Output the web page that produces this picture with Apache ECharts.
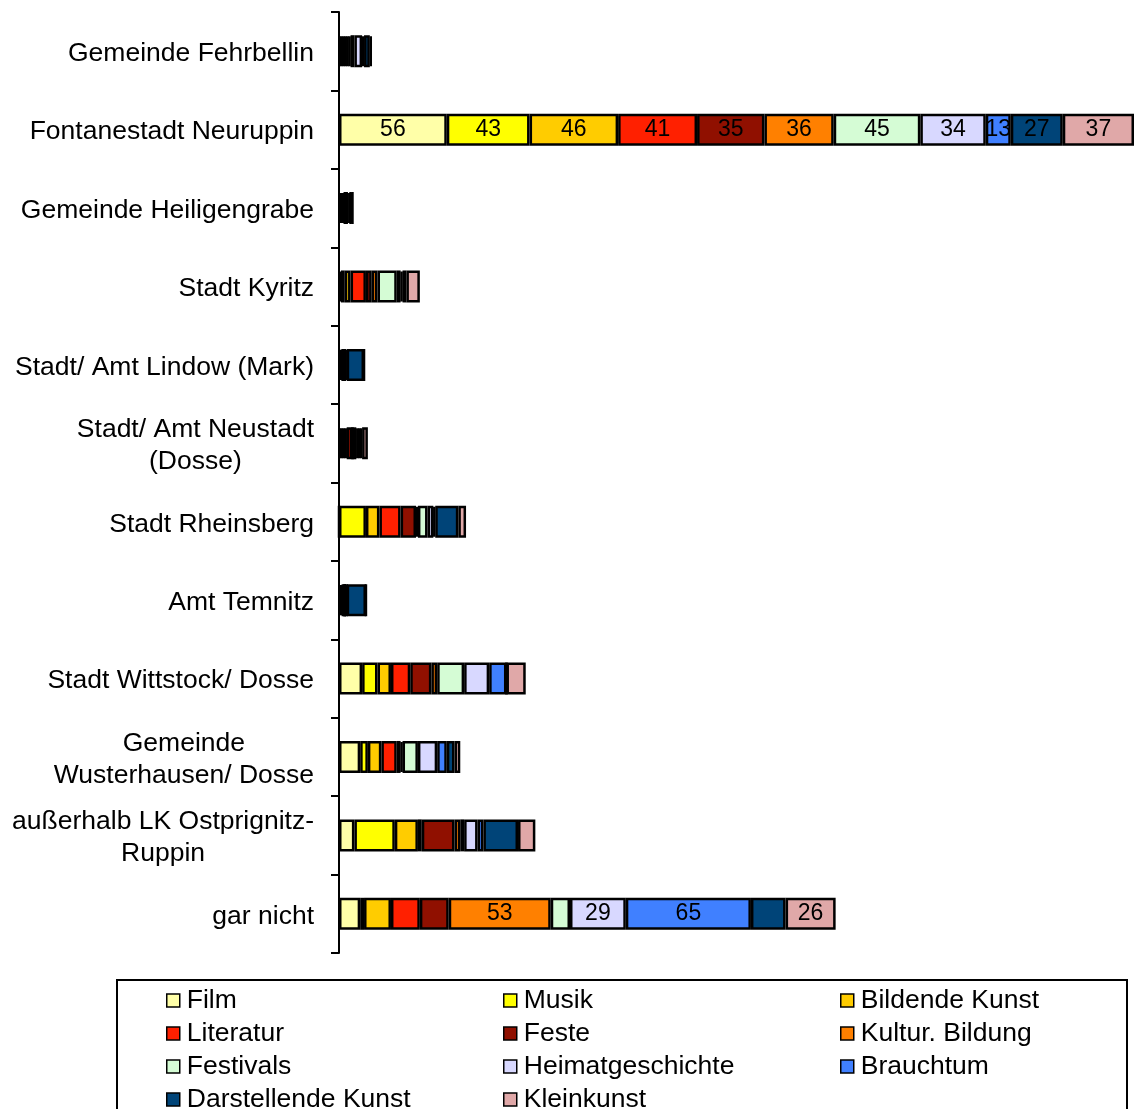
<!DOCTYPE html>
<html>
<head>
<meta charset="utf-8">
<title>Kulturangebote nach Ort</title>
<script src="https://cdn.jsdelivr.net/npm/echarts@6/dist/echarts.min.js"></script>
<style>
  html, body { margin: 0; padding: 0; background: #fff; }
  #chart { width: 1135px; height: 1109px; }
</style>
</head>
<body>
<div id="chart"></div>
<script>
// Orte (Kategorien)
const categories = [
  'Gemeinde Fehrbellin',
  'Fontanestadt Neuruppin',
  'Gemeinde Heiligengrabe',
  'Stadt Kyritz',
  'Stadt/ Amt Lindow (Mark)',
  'Stadt/ Amt Neustadt\n(Dosse)',
  'Stadt Rheinsberg',
  'Amt Temnitz',
  'Stadt Wittstock/ Dosse',
  'Gemeinde\nWusterhausen/ Dosse',
  'außerhalb LK Ostprignitz-\nRuppin',
  'gar nicht'
];

// Nennungen je Sparte, in der Reihenfolge der Orte
const film          = [1, 56, 1, 1, 1, 1, 0, 1, 12, 11, 8, 11];
const musik         = [1, 43, 1, 2, 1, 1, 14, 1, 8, 4, 21, 2];
const bildendeKunst = [1, 46, 1, 3, 0, 1, 7, 0, 7, 7, 12, 14];
const literatur     = [1, 41, 0, 8, 0, 1, 11, 1, 10, 8, 2, 15];
const feste         = [1, 35, 1, 3, 1, 3, 8, 0, 11, 2, 17, 15];
const kulturBildung = [1, 36, 0, 3, 0, 0, 1, 0, 3, 1, 3, 53];
const festivals     = [2, 45, 1, 10, 0, 2, 5, 0, 14, 8, 2, 10];
const heimat        = [4, 34, 1, 2, 0, 1, 3, 1, 13, 10, 7, 29];
const brauchtum     = [1, 13, 0, 1, 1, 1, 1, 0, 9, 5, 3, 65];
const darstellende  = [3, 27, 1, 2, 9, 1, 12, 10, 0, 4, 18, 18];
const kleinkunst    = [1, 37, 0, 7, 0, 3, 4, 0, 10, 3, 9, 26];

// Wertbeschriftung: kleinster beschrifteter Wert je Ort (null = keine Beschriftung)
const labelMinByRow = [null, 0, null, null, null, null, null, null, null, null, null, 20];

const seriesDefs = [
  { name: 'Film',               data: film,          color: '#FFFFA8' },
  { name: 'Musik',              data: musik,         color: '#FFFF00' },
  { name: 'Bildende Kunst',     data: bildendeKunst, color: '#FFCC00' },
  { name: 'Literatur',          data: literatur,     color: '#FF2000' },
  { name: 'Feste',              data: feste,         color: '#901000' },
  { name: 'Kultur. Bildung',    data: kulturBildung, color: '#FF8000' },
  { name: 'Festivals',          data: festivals,     color: '#D5FCD5' },
  { name: 'Heimatgeschichte',   data: heimat,        color: '#D8D8FF' },
  { name: 'Brauchtum',          data: brauchtum,     color: '#4080FF' },
  { name: 'Darstellende Kunst', data: darstellende,  color: '#004478' },
  { name: 'Kleinkunst',         data: kleinkunst,    color: '#E0A8A8' }
];

const FONT = '"Liberation Sans", Arial, Helvetica, sans-serif';

// Achsenbeschriftung: mehrzeilige Texte zentriert innerhalb des rechtsbündigen Blocks
function categoryLabel(value) {
  return value.split('\n').map(line => '{c|' + line + '}').join('\n');
}

const series = seriesDefs.map(def => ({
  name: def.name,
  type: 'bar',
  stack: 'total',
  barWidth: 32,
  itemStyle: { color: def.color, borderColor: '#000', borderWidth: 2.5 },
  emphasis: { disabled: true },
  data: def.data.map((v, i) => {
    const min = labelMinByRow[i];
    const show = min !== null && v > min;
    return {
      value: v,
      label: {
        show: show,
        position: 'inside',
        color: '#000',
        fontSize: 23,
        fontFamily: FONT
      }
    };
  })
}));

const legendColumns = [
  ['Film', 'Literatur', 'Festivals', 'Darstellende Kunst'],
  ['Musik', 'Feste', 'Heimatgeschichte', 'Kleinkunst'],
  ['Bildende Kunst', 'Kultur. Bildung', 'Brauchtum']
];
const legendLefts = [166, 503, 840];

const legends = legendColumns.map((names, k) => ({
  data: names,
  orient: 'vertical',
  left: legendLefts[k],
  top: 987,
  height: 200,
  padding: 0,
  itemGap: 6,
  itemWidth: 13,
  itemHeight: 13,
  icon: 'rect',
  selectedMode: false,
  itemStyle: { borderColor: '#000', borderWidth: 1.5 },
  textStyle: { color: '#000', fontSize: 26.5, fontFamily: FONT, padding: [0, 0, 0, 2] }
}));

const chart = echarts.init(document.getElementById('chart'), null, { renderer: 'canvas' });
chart.setOption({
  animation: false,
  backgroundColor: '#fff',
  grid: { left: 339, right: 1, top: 12, bottom: 156, containLabel: false },
  xAxis: {
    type: 'value',
    min: 0,
    max: 413,
    show: false
  },
  yAxis: {
    type: 'category',
    inverse: true,
    data: categories,
    axisLine: { show: true, lineStyle: { color: '#000', width: 2 } },
    axisTick: { show: true, length: 8, lineStyle: { color: '#000', width: 2 } },
    splitLine: { show: false },
    axisLabel: {
      color: '#000',
      fontSize: 26.5,
      fontFamily: FONT,
      margin: 25,
      align: 'right',
      padding: [5, 0, 0, 0],
      formatter: categoryLabel,
      rich: {
        c: { align: 'center', fontSize: 26.5, fontFamily: FONT, color: '#000', lineHeight: 32 }
      }
    }
  },
  legend: legends,
  graphic: [{
    type: 'rect',
    shape: { x: 117, y: 980, width: 1010, height: 200 },
    style: { fill: 'none', stroke: '#000', lineWidth: 2 },
    silent: true,
    z: 0
  }],
  series: series
});
</script>
</body>
</html>
